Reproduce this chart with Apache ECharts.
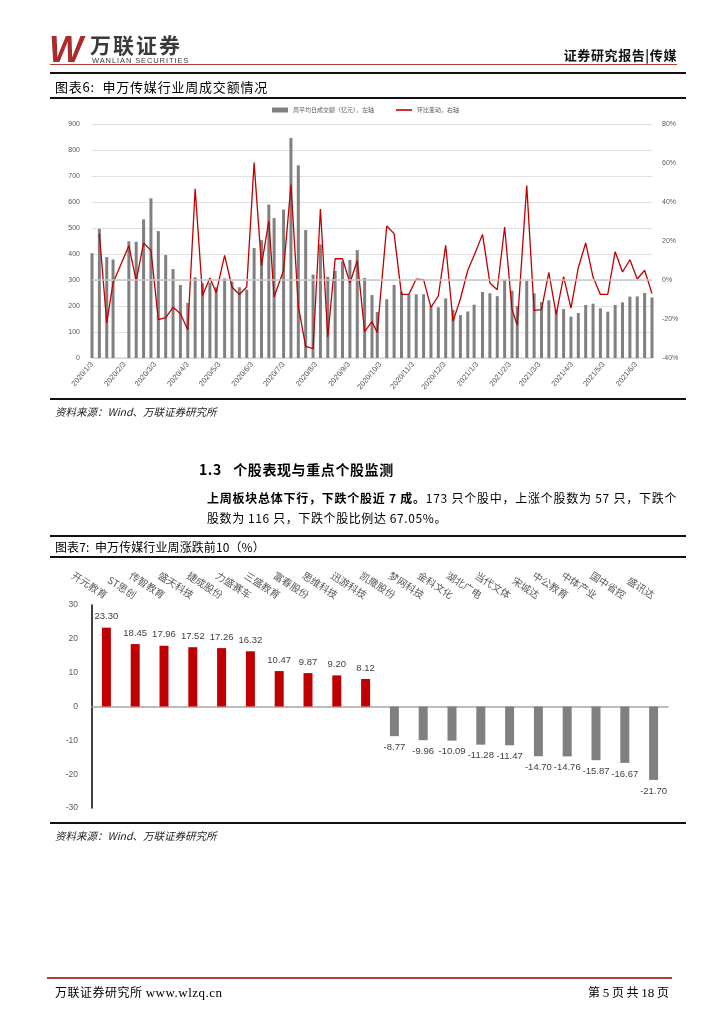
<!DOCTYPE html>
<html><head><meta charset="utf-8">
<script src="https://cdn.jsdelivr.net/npm/echarts@6/dist/echarts.min.js"></script>
<style>
html,body{margin:0;padding:0;background:#fff;}
#page{position:relative;width:724px;height:1024px;overflow:hidden;font-family:"Noto Sans CJK SC","Liberation Serif",serif;color:#000;}
#chart{position:absolute;left:0;top:0;width:724px;height:1024px;}
.t{position:absolute;white-space:nowrap;line-height:1;}
.hl{position:absolute;height:0;}
</style></head>
<body><div id="page">
<div id="chart"></div>
<!-- header -->
<div class="t" style="left:49px;top:29px;font:italic 900 36px 'Liberation Sans',Arial;color:#a92b2b;letter-spacing:-4px;">W</div>
<div class="t" style="left:90px;top:29px;font:700 21px 'Noto Sans CJK SC';color:#3a3a3a;letter-spacing:2px;">万联证券</div>
<div class="t" style="left:92px;top:56px;font:400 7.5px 'Liberation Sans',Arial;color:#3a3a3a;letter-spacing:0.9px;">WANLIAN SECURITIES</div>
<div class="t" style="right:47px;top:45px;font:700 13px 'Noto Sans CJK SC';color:#111;letter-spacing:0.6px;">证券研究报告|传媒</div>
<div class="hl" style="left:50px;width:627px;top:64px;border-top:1.5px solid #b0403c;"></div>
<!-- figure 6 -->
<div class="hl" style="left:50px;width:636px;top:72px;border-top:2px solid #111;"></div>
<div class="t" style="left:55px;top:77px;font:400 13px 'Noto Sans CJK SC';letter-spacing:0.8px;">图表6:&nbsp;&nbsp;申万传媒行业周成交额情况</div>
<div class="hl" style="left:50px;width:636px;top:97px;border-top:2px solid #111;"></div>
<div class="hl" style="left:50px;width:636px;top:398px;border-top:2px solid #111;"></div>
<div class="t" style="left:55px;top:404px;font:italic 400 10.5px 'Noto Sans CJK SC';color:#222;">资料来源：Wind、万联证券研究所</div>
<!-- section -->
<div class="t" style="left:199px;top:459px;font:700 14px 'Noto Sans CJK SC';letter-spacing:0.6px;">1.3&nbsp;&nbsp;&nbsp;个股表现与重点个股监测</div>
<div class="t" style="left:207px;top:489px;font:400 12px 'Noto Sans CJK SC';letter-spacing:0.75px;"><b>上周板块总体下行，下跌个股近 7 成。</b>173 只个股中，上涨个股数为 57 只，下跌个</div>
<div class="t" style="left:207px;top:509px;font:400 12px 'Noto Sans CJK SC';letter-spacing:0.6px;">股数为 116 只，下跌个股比例达 67.05%。</div>
<!-- figure 7 -->
<div class="hl" style="left:50px;width:636px;top:535px;border-top:2px solid #111;"></div>
<div class="t" style="left:55px;top:538px;font:400 12px 'Noto Sans CJK SC';letter-spacing:0.1px;">图表7:&nbsp;&nbsp;申万传媒行业周涨跌前10（%）</div>
<div class="hl" style="left:50px;width:636px;top:556px;border-top:2px solid #111;"></div>
<div class="hl" style="left:50px;width:636px;top:822px;border-top:2px solid #111;"></div>
<div class="t" style="left:55px;top:828px;font:italic 400 10.5px 'Noto Sans CJK SC';color:#222;">资料来源：Wind、万联证券研究所</div>
<!-- footer -->
<div class="hl" style="left:47px;width:625px;top:977px;border-top:2px solid #b0403c;"></div>
<div class="t" style="left:55px;top:983px;font:400 12px 'Noto Sans CJK SC';letter-spacing:0.5px;">万联证券研究所&nbsp;<span style="font-family:'Liberation Serif';font-size:13px;">www.wlzq.cn</span></div>
<div class="t" style="right:55px;top:983px;font:400 12px 'Noto Sans CJK SC';">第 <span style="font-family:'Liberation Serif';font-size:13px;">5</span> 页 共 <span style="font-family:'Liberation Serif';font-size:13px;">18</span> 页</div>
</div>
<script>
// ---------- Figure 6 data ----------
const weekDates = ['2020-01-03','2020-01-10','2020-01-17','2020-01-23','2020-02-07','2020-02-14','2020-02-21','2020-02-28',
'2020-03-06','2020-03-13','2020-03-20','2020-03-27','2020-04-03','2020-04-10','2020-04-17','2020-04-24','2020-04-30',
'2020-05-08','2020-05-15','2020-05-22','2020-05-29','2020-06-05','2020-06-12','2020-06-19','2020-06-24',
'2020-07-03','2020-07-10','2020-07-17','2020-07-24','2020-07-31','2020-08-07','2020-08-14','2020-08-21','2020-08-28',
'2020-09-04','2020-09-11','2020-09-18','2020-09-25','2020-09-30','2020-10-09','2020-10-16','2020-10-23','2020-10-30',
'2020-11-06','2020-11-13','2020-11-20','2020-11-27','2020-12-04','2020-12-11','2020-12-18','2020-12-25','2020-12-31',
'2021-01-08','2021-01-15','2021-01-22','2021-01-29','2021-02-05','2021-02-10','2021-02-19','2021-02-26',
'2021-03-05','2021-03-12','2021-03-19','2021-03-26','2021-04-02','2021-04-09','2021-04-16','2021-04-23','2021-04-30',
'2021-05-07','2021-05-14','2021-05-21','2021-05-28','2021-06-04','2021-06-11','2021-06-18'];
const turnover = [403,497,388,379,449,447,533,614,
488,396,342,281,212,310,287,290,272,
306,294,272,263,423,453,590,538,
571,846,741,492,321,437,312,335,372,
377,415,308,242,177,226,281,255,244,
245,245,200,195,229,185,165,179,205,
254,249,238,301,259,200,296,249,
215,222,185,188,159,173,204,209,191,
178,204,214,236,237,250,233];
const change = [null,23.8,-22,-1.5,17.6,-0.5,19,15.2,
-20.3,-19.3,-14,-17.3,-25.5,46.8,-7.9,1,-6.5,
12.6,-3.6,-7.4,-3.6,60.2,7.5,30.3,-8.7,
5,48.9,-13.5,-34,-35.2,36.4,-29.2,10.9,10.9,
-1.5,10,-26.5,-21.4,-27,27.7,23.8,-7.4,-7.4,
0.5,0.2,-14,-8.2,17.8,-21.2,-9.6,5,12.6,
23.4,-1.5,-5,27.2,-15,-23.2,48.4,-15.6,
-15.2,3.9,-17.8,1.7,-14.4,6.3,19,1.5,-7.4,
-7.4,14.5,4.1,10.4,0.5,5,-7];
const xTickLabels = ['2020/1/3','2020/2/3','2020/3/3','2020/4/3','2020/5/3','2020/6/3','2020/7/3','2020/8/3','2020/9/3',
'2020/10/3','2020/11/3','2020/12/3','2021/1/3','2021/2/3','2021/3/3','2021/4/3','2021/5/3','2021/6/3'];
const leftTicks = {min:0,max:900,interval:100};
const rightTicks = {min:-40,max:80,interval:20};
const legendNames = ['周平均日成交额（亿元），左轴','环比变动，右轴'];

// ---------- Figure 7 data ----------
const stockNames = ['开元教育','ST思创','传智教育','盛天科技','捷成股份','力盛赛车','三盛教育','富春股份','思维科技','迅游科技',
'凯撒股份','梦网科技','金科文化','湖北广电','当代文体','宋城达','中公教育','中体产业','国中省控','盛讯达'];
const stockChg = [23.30,18.45,17.96,17.52,17.26,16.32,10.47,9.87,9.20,8.12,
-8.77,-9.96,-10.09,-11.28,-11.47,-14.70,-14.76,-15.87,-16.67,-21.70];

// x of figure 6 = day number counted from the first date (value axis)
const DAY = 86400000;
function toDayNo(s){const p=s.split(/[-\/]/).map(Number);return Math.round((Date.UTC(p[0],p[1]-1,p[2])-Date.UTC(2020,0,3))/DAY);}
const barData = weekDates.map((d,i)=>[toDayNo(d),turnover[i]]);
const lineData = weekDates.map((d,i)=>[toDayNo(d),change[i]]).filter(p=>p[1]!==null);
const tickVals = xTickLabels.map(toDayNo);
const labelOf = {}; tickVals.forEach((v,i)=>{labelOf[v]=xTickLabels[i];});

const chart = echarts.init(document.getElementById('chart'),null,{renderer:'canvas'});
const axisFont = {fontFamily:'Liberation Sans',color:'#595959'};
chart.setOption({
  animation:false,
  backgroundColor:'transparent',
  legend:{
    top:102,left:267,itemWidth:16,itemHeight:5,itemGap:22,
    textStyle:{fontSize:6,color:'#595959',fontFamily:'Noto Sans CJK SC'},
    data:[{name:legendNames[0],icon:'rect'},{name:legendNames[1],icon:'path://M0,0H10V1H0Z'}]
  },
  grid:[
    {left:92,top:124,width:560,height:234},
    {left:92,top:605,width:576,height:203}
  ],
  xAxis:[
    {type:'value',gridIndex:0,min:toDayNo(weekDates[0]),max:toDayNo(weekDates[weekDates.length-1]),
      axisLine:{show:true,onZero:false,lineStyle:{color:'#d9d9d9',width:1.5}},axisTick:{show:false},splitLine:{show:false},
      axisLabel:Object.assign({fontSize:7.5,rotate:50,margin:5,
        customValues:tickVals,formatter:v=>labelOf[v]||''},axisFont)},
    {type:'category',gridIndex:1,data:stockNames,position:'bottom',
      axisLine:{onZero:true,lineStyle:{color:'#a6a6a6',width:1.5}},axisTick:{show:false},axisLabel:{show:false}},
    {type:'category',gridIndex:1,data:stockNames,position:'top',
      axisLine:{show:false},axisTick:{show:false},
      axisLabel:{rotate:33,align:'right',verticalAlign:'middle',fontSize:10,color:'#595959',
        fontFamily:'Noto Sans CJK SC',margin:9,interval:0}}
  ],
  yAxis:[
    {type:'value',gridIndex:0,min:leftTicks.min,max:leftTicks.max,interval:leftTicks.interval,
      axisLine:{show:false},axisTick:{show:false},
      splitLine:{lineStyle:{color:'#e0e0e0',width:1}},
      axisLabel:Object.assign({fontSize:7,margin:12},axisFont)},
    {type:'value',gridIndex:0,min:rightTicks.min,max:rightTicks.max,interval:rightTicks.interval,position:'right',
      axisLine:{show:false},axisTick:{show:false},splitLine:{show:false},
      axisLabel:Object.assign({fontSize:7,margin:10,formatter:'{value}%'},axisFont)},
    {type:'value',gridIndex:1,min:-30,max:30,interval:10,
      axisLine:{show:true,lineStyle:{color:'#000',width:1.5}},axisTick:{show:false},splitLine:{show:false},
      axisLabel:Object.assign({fontSize:8.5,margin:14},axisFont)}
  ],
  series:[
    {name:legendNames[0],type:'bar',xAxisIndex:0,yAxisIndex:0,data:barData,barWidth:3,clip:false,
      itemStyle:{color:'#808080'}},
    {name:legendNames[1],type:'line',xAxisIndex:0,yAxisIndex:1,data:lineData,symbol:'none',clip:false,
      lineStyle:{color:'#c00000',width:1.3},itemStyle:{color:'#c00000'},
      markLine:{silent:true,symbol:'none',label:{show:false},data:[{yAxis:0}],
        lineStyle:{color:'#c8c8c8',width:1.5,type:'solid'}}},
    {type:'bar',xAxisIndex:1,yAxisIndex:2,barWidth:9,
      data:stockChg.map(v=>({value:v,itemStyle:{color:v>=0?'#c00000':'#808080'},
        label:{position:v>=0?'top':'bottom'}})),
      label:{show:true,fontSize:9.5,color:'#404040',fontFamily:'Liberation Sans',distance:6,
        formatter:p=>p.value.toFixed(2)}}
  ]
});
</script>
</body></html>
